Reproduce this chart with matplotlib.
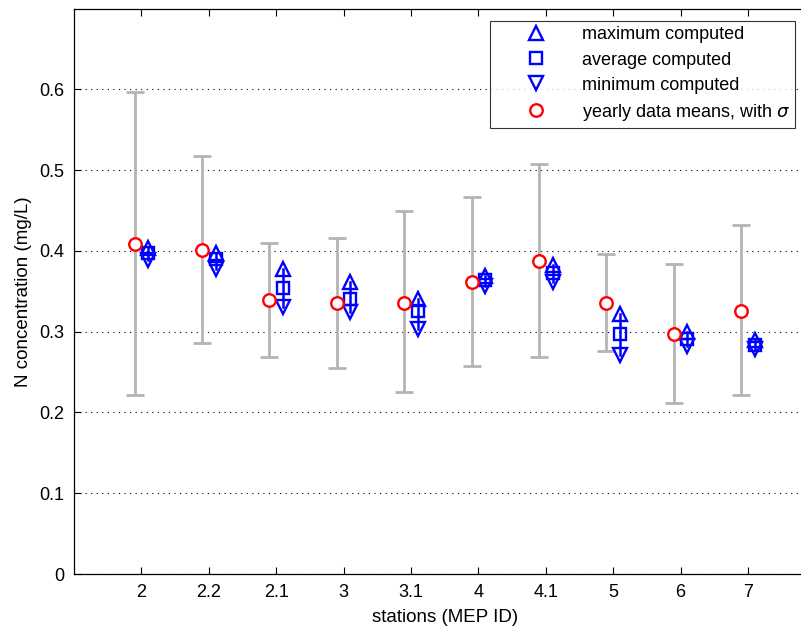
import numpy as np
import matplotlib.pyplot as plt

plt.rcParams['font.family'] = ['Liberation Sans', 'DejaVu Sans']

stations = ['2', '2.2', '2.1', '3', '3.1', '4', '4.1', '5', '6', '7']

# yearly data: mean and mean +/- sigma
data_mean = [0.408, 0.401, 0.339, 0.335, 0.336, 0.362, 0.388, 0.335, 0.297, 0.326]
data_high = [0.597, 0.517, 0.410, 0.416, 0.449, 0.467, 0.508, 0.396, 0.384, 0.432]
data_low = [0.221, 0.286, 0.269, 0.255, 0.225, 0.257, 0.269, 0.276, 0.212, 0.221]

# computed values
comp_max = [0.404, 0.397, 0.377, 0.362, 0.340, 0.369, 0.383, 0.322, 0.299, 0.290]
comp_avg = [0.397, 0.390, 0.354, 0.341, 0.325, 0.364, 0.373, 0.297, 0.291, 0.284]
comp_min = [0.389, 0.377, 0.330, 0.324, 0.303, 0.357, 0.361, 0.271, 0.282, 0.278]

x = np.arange(1, len(stations) + 1)
mean = np.array(data_mean)
err = [mean - np.array(data_low), np.array(data_high) - mean]

fig = plt.figure(figsize=(8.01, 6.29), dpi=100)
ax = fig.add_axes([0.0924, 0.0874, 0.9256, 0.899])

gray = '#b4b4b4'
ax.errorbar(x - 0.1, mean, yerr=err, fmt='none', ecolor=gray,
            elinewidth=2, capsize=6.5, capthick=2, zorder=2)

for xi, lo, hi in zip(x + 0.1, comp_min, comp_max):
    ax.plot([xi, xi], [lo, hi], color='blue', lw=1.8, zorder=3)

ax.plot(x + 0.1, comp_max, '^', ms=10, mfc='none', mec='blue', mew=1.7,
        ls='none', label='maximum computed', zorder=4)
ax.plot(x + 0.1, comp_avg, 's', ms=8.5, mfc='none', mec='blue', mew=1.7,
        ls='none', label='average computed', zorder=4)
ax.plot(x + 0.1, comp_min, 'v', ms=10, mfc='none', mec='blue', mew=1.7,
        ls='none', label='minimum computed', zorder=4)
ax.plot(x - 0.1, mean, 'o', ms=9, mfc='white', mec='red', mew=1.7,
        ls='none', label=r'yearly data means, with $\sigma$', zorder=5)

ax.set_xlim(0, 11)
ax.set_ylim(0, 0.7)
ax.set_xticks(x)
ax.set_xticklabels(stations)
ax.set_yticks(np.arange(0, 0.61, 0.1))
ax.set_yticklabels(['0', '0.1', '0.2', '0.3', '0.4', '0.5', '0.6'])
ax.yaxis.grid(True, linestyle=(0, (1, 4)), color='black', lw=0.8)
ax.tick_params(direction='in', top=True, right=False, labelsize=13,
               length=5, width=0.8, pad=7)
ax.spines['right'].set_visible(False)
for s in ax.spines.values():
    s.set_linewidth(0.9)

ax.set_xlabel('stations (MEP ID)', fontsize=13.5, labelpad=6)
ax.set_ylabel('N concentration (mg/L)', fontsize=13.5, labelpad=5)

leg = ax.legend(loc='upper right', bbox_to_anchor=(0.9725, 0.978),
                borderaxespad=0, fancybox=False, edgecolor='black',
                fontsize=13, handletextpad=0.3, borderpad=0.3,
                labelspacing=0.45, handlelength=4.5)
leg.get_frame().set_linewidth(0.8)

fig.savefig('out.png', dpi=100)
